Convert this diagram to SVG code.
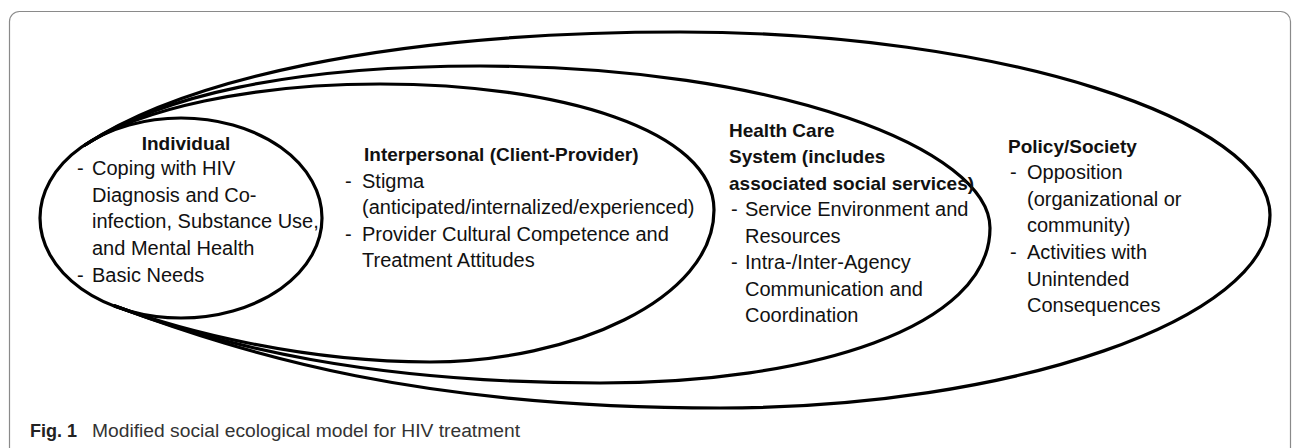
<svg xmlns="http://www.w3.org/2000/svg" width="1295" height="448" viewBox="0 0 1295 448">
<style>
.bg{fill:#ffffff}
.frame{fill:none;stroke:#8a8a8a;stroke-width:1.2}
.ring{fill:none;stroke:#000;stroke-width:3.2;stroke-linecap:round;stroke-linejoin:round}
.t{font-family:"Liberation Sans",Arial,sans-serif;font-size:20px;fill:#111}
.h{font-family:"Liberation Sans",Arial,sans-serif;font-size:19px;font-weight:bold;fill:#111}
.cap{font-family:"Liberation Sans",Arial,sans-serif;font-size:18px;fill:#333}
.capb{font-family:"Liberation Sans",Arial,sans-serif;font-size:18px;font-weight:bold;fill:#222}
</style>
<rect class="bg" x="0" y="0" width="1295" height="448"/>
<rect class="frame" x="9.5" y="11.5" width="1281" height="480" rx="10" ry="10"/>

<g id="connectors"></g>

<g id="policy-society">
  <path class="ring" d="M 85 145 C 180 82, 380 32, 680 32 C 1000 32, 1270 120, 1270 215 C 1270 320, 1010 408, 720 408 C 420 408, 250 356, 115 306"/>
  <text class="h" x="1008" y="153">Policy/Society</text>
  <text class="t" x="1010" y="179">-</text><text class="t" x="1027" y="179">Opposition</text>
  <text class="t" x="1027" y="206">(organizational or</text>
  <text class="t" x="1027" y="232">community)</text>
  <text class="t" x="1010" y="259">-</text><text class="t" x="1027" y="259">Activities with</text>
  <text class="t" x="1027" y="286">Unintended</text>
  <text class="t" x="1027" y="312">Consequences</text>
</g>

<g id="health-care-system">
  <path class="ring" d="M 85 145 C 160 96, 290 66, 480 66 C 780 66, 990 150, 990 228 C 990 328, 810 383, 600 383 C 370 383, 220 346, 115 306"/>
  <text class="h" x="729" y="137">Health Care</text>
  <text class="h" x="729" y="163">System (includes</text>
  <text class="h" x="729" y="190">associated social services)</text>
  <text class="t" x="731" y="216">-</text><text class="t" x="745" y="216">Service Environment and</text>
  <text class="t" x="745" y="243">Resources</text>
  <text class="t" x="731" y="269">-</text><text class="t" x="745" y="269">Intra-/Inter-Agency</text>
  <text class="t" x="745" y="296">Communication and</text>
  <text class="t" x="745" y="322">Coordination</text>
</g>

<g id="interpersonal">
  <path class="ring" d="M 85 145 C 140 109, 250 84, 380 84 C 560 84, 714 130, 714 210 C 714 300, 570 362, 430 362 C 300 362, 180 330, 115 306"/>
  <text class="h" x="364" y="161">Interpersonal (Client-Provider)</text>
  <text class="t" x="345" y="188">-</text><text class="t" x="362" y="188">Stigma</text>
  <text class="t" x="362" y="214">(anticipated/internalized/experienced)</text>
  <text class="t" x="345" y="241">-</text><text class="t" x="362" y="241">Provider Cultural Competence and</text>
  <text class="t" x="362" y="267">Treatment Attitudes</text>
</g>

<g id="individual">
  <ellipse class="ring" cx="181" cy="218" rx="141" ry="100"/>
  <text class="h" x="186" y="150" text-anchor="middle">Individual</text>
  <text class="t" x="77" y="175">-</text><text class="t" x="92" y="175">Coping with HIV</text>
  <text class="t" x="92" y="202">Diagnosis and Co-</text>
  <text class="t" x="92" y="228">infection, Substance Use,</text>
  <text class="t" x="92" y="255">and Mental Health</text>
  <text class="t" x="77" y="282">-</text><text class="t" x="92" y="282">Basic Needs</text>
</g>

<g id="caption">
  <text class="capb" x="30" y="437">Fig. 1</text>
  <text class="cap" x="92" y="437" textLength="428" lengthAdjust="spacingAndGlyphs">Modified social ecological model for HIV treatment</text>
</g>
</svg>
